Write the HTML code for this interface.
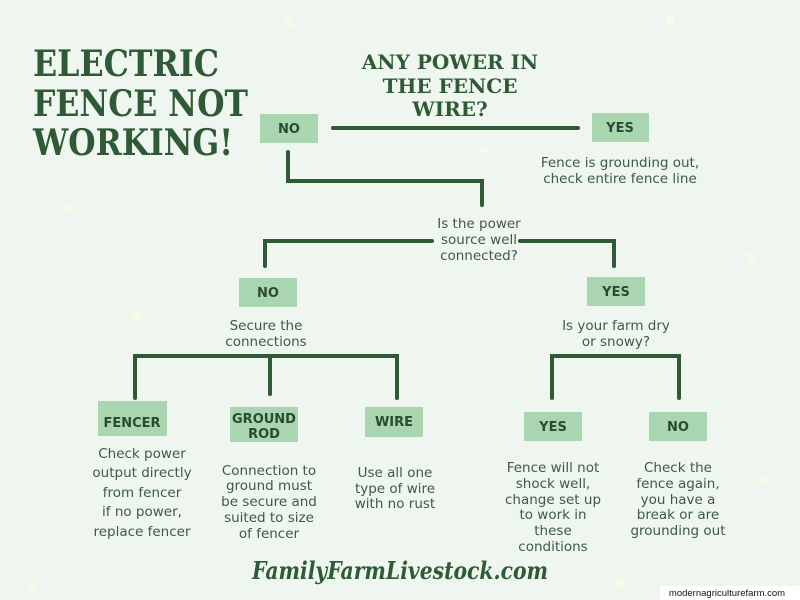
<!DOCTYPE html>
<html><head><meta charset="utf-8"><style>
html,body{margin:0;padding:0;background:#eef6ef;}
svg{display:block}
.t{font-family:"DejaVu Sans","Liberation Sans",sans-serif;font-size:13.5px;fill:#3e5a44;text-anchor:middle}
.b{font-family:"DejaVu Sans","Liberation Sans",sans-serif;font-size:13px;font-weight:bold;fill:#2b4a31;text-anchor:middle}
.h{font-family:"DejaVu Serif","Liberation Serif",serif;font-weight:bold;fill:#2e5a36}
</style></head><body>
<svg width="800" height="600" viewBox="0 0 800 600" xmlns="http://www.w3.org/2000/svg">
<rect width="800" height="600" fill="#eef6ef"/>
<g fill="#f6fbe6">
<circle cx="289" cy="22" r="5"/><circle cx="68" cy="208" r="5"/><circle cx="138" cy="317" r="5"/>
<circle cx="751" cy="258" r="5"/><circle cx="670" cy="20" r="5"/><circle cx="762" cy="480" r="5"/>
<circle cx="621" cy="582" r="5"/><circle cx="485" cy="150" r="4"/><circle cx="33" cy="587" r="4"/>
</g>
<text class="h" x="33" y="76" font-size="36" textLength="186" lengthAdjust="spacingAndGlyphs">ELECTRIC</text>
<text class="h" x="33" y="116" font-size="36" textLength="215" lengthAdjust="spacingAndGlyphs">FENCE NOT</text>
<text class="h" x="33" y="155" font-size="36" textLength="200" lengthAdjust="spacingAndGlyphs">WORKING!</text>
<text class="h" x="450" y="69" font-size="20" text-anchor="middle">ANY POWER IN</text>
<text class="h" x="450" y="93" font-size="20" text-anchor="middle">THE FENCE</text>
<text class="h" x="450" y="116" font-size="20" text-anchor="middle">WIRE?</text>
<g stroke="#2e5a36" stroke-width="4" fill="none" stroke-linecap="round" stroke-linejoin="miter">
<path d="M333 128H578"/>
<path d="M288 152V181H482V205"/>
<path d="M265 266V241H432"/>
<path d="M520 241H614V266"/>
<path d="M135 398V356H397V398"/><path d="M270 356V394"/>
<path d="M552 398V356H679V398"/>
</g>
<g fill="#a9d5b1">
<rect x="260" y="114" width="58" height="29"/>
<rect x="592" y="113" width="57" height="29"/>
<rect x="239" y="278" width="58" height="29"/>
<rect x="587" y="277" width="58" height="29"/>
<rect x="98" y="401" width="69" height="35"/>
<rect x="230" y="407" width="68" height="35"/>
<rect x="365" y="407" width="58" height="30"/>
<rect x="524" y="412" width="58" height="29"/>
<rect x="649" y="412" width="58" height="29"/>
</g>
<text class="b" x="289" y="133">NO</text>
<text class="b" x="620" y="132">YES</text>
<text class="b" x="268" y="297">NO</text>
<text class="b" x="616" y="296">YES</text>
<text class="b" x="132" y="427">FENCER</text>
<text class="b" x="264" y="423">GROUND</text>
<text class="b" x="264" y="438">ROD</text>
<text class="b" x="394" y="426">WIRE</text>
<text class="b" x="553" y="431">YES</text>
<text class="b" x="678" y="431">NO</text>
<text class="t" x="620" y="167">Fence is grounding out,</text>
<text class="t" x="620" y="183">check entire fence line</text>
<text class="t" x="479" y="228">Is the power</text>
<text class="t" x="479" y="244">source well</text>
<text class="t" x="479" y="260">connected?</text>
<text class="t" x="266" y="330">Secure the</text>
<text class="t" x="266" y="346">connections</text>
<text class="t" x="616" y="330">Is your farm dry</text>
<text class="t" x="616" y="346">or snowy?</text>
<g class="t">
<text x="142" y="458">Check power</text><text x="142" y="477">output directly</text><text x="142" y="497">from fencer</text><text x="142" y="516">if no power,</text><text x="142" y="536">replace fencer</text>
<text x="269" y="475">Connection to</text><text x="269" y="490">ground must</text><text x="269" y="506">be secure and</text><text x="269" y="522">suited to size</text><text x="269" y="538">of fencer</text>
<text x="395" y="477">Use all one</text><text x="395" y="493">type of wire</text><text x="395" y="508">with no rust</text>
<text x="553" y="472">Fence will not</text><text x="553" y="488">shock well,</text><text x="553" y="504">change set up</text><text x="553" y="519">to work in</text><text x="553" y="535">these</text><text x="553" y="551">conditions</text>
<text x="678" y="472">Check the</text><text x="678" y="488">fence again,</text><text x="678" y="504">you have a</text><text x="678" y="519">break or are</text><text x="678" y="535">grounding out</text>
</g>
<text x="400" y="579" text-anchor="middle" font-family="DejaVu Serif,Liberation Serif,serif" font-style="italic" font-weight="bold" font-size="24" fill="#2e5a36" textLength="296" lengthAdjust="spacingAndGlyphs">FamilyFarmLivestock.com</text>
<rect x="660" y="586" width="140" height="14" fill="#ffffff"/>
<text x="727" y="596" text-anchor="middle" font-family="Liberation Sans,sans-serif" font-size="9.5" fill="#111">modernagriculturefarm.com</text>
</svg>
</body></html>
